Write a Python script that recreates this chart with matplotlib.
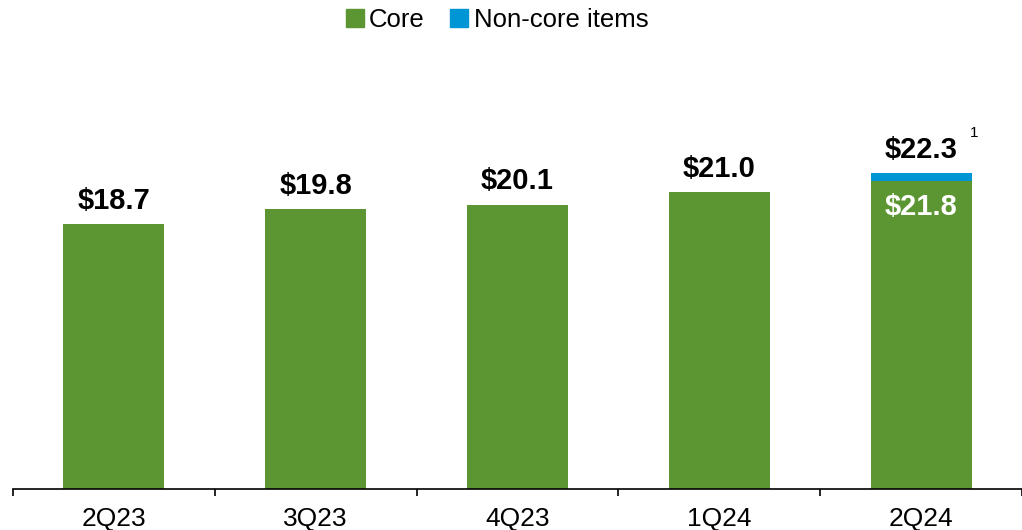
import matplotlib.pyplot as plt
from matplotlib.patches import Patch

plt.rcParams['font.family'] = ['Liberation Sans', 'DejaVu Sans']

quarters = ['2Q23', '3Q23', '4Q23', '1Q24', '2Q24']
core = [18.7, 19.8, 20.1, 21.0, 21.8]
non_core = [0.0, 0.0, 0.0, 0.0, 0.5]
totals = [18.7, 19.8, 20.1, 21.0, 22.3]

GREEN = '#5B9632'
BLUE = '#0096D6'

W, H = 1022, 530
fig = plt.figure(figsize=(W / 100, H / 100), dpi=100)
# axis line at y=489 px, x from 13 px; 203.5 px per category, 14.15 px per unit
left = 13 / W
bottom = (H - 489) / H
ax = fig.add_axes([left, bottom, 1 - left, 30 * 14.15 / H])
ax.set_xlim(-0.5, -0.5 + (W - 13) / 203.5)
ax.set_ylim(0, 30)

x = list(range(len(quarters)))
ax.bar(x, core, width=0.5, color=GREEN, label='Core', zorder=2)
ax.bar(x, non_core, width=0.5, bottom=core, color=BLUE,
       label='Non-core items', zorder=2)

for i, t in enumerate(totals):
    ax.annotate(f'${t:.1f}', (i, t), xytext=(0, 11), textcoords='offset points',
                ha='center', va='baseline', fontsize=21, fontweight='bold',
                color='black')

# core value shown inside the stacked bar
ax.annotate(f'${core[4]:.1f}', (4, core[4]), xytext=(0, -25),
            textcoords='offset points', ha='center', va='baseline',
            fontsize=21, fontweight='bold', color='white')
# footnote marker
ax.annotate('1', (4, totals[4]), xytext=(38, 26), textcoords='offset points',
            ha='center', va='baseline', fontsize=11, color='black')

for s in ['top', 'right', 'left']:
    ax.spines[s].set_visible(False)
ax.spines['bottom'].set_linewidth(1.2)
ax.set_yticks([])
ax.set_xticks([i - 0.5 for i in range(len(quarters) + 1)])
ax.set_xticklabels([])
ax.tick_params(axis='x', length=5, width=1.2, direction='out')
ax.set_xticks(x, minor=True)
ax.set_xticklabels(quarters, minor=True, fontsize=19)
ax.tick_params(axis='x', which='minor', length=0, pad=13)

handles = [Patch(color=GREEN, label='Core'), Patch(color=BLUE, label='Non-core items')]
fig.legend(handles=handles, loc='center', bbox_to_anchor=(497 / W, 1 - 20 / H),
           ncol=2, frameon=False, fontsize=18.5, handlelength=0.7, handleheight=0.7,
           handletextpad=0.2, columnspacing=1.0)

fig.savefig('out.png', dpi=100, facecolor='white')
